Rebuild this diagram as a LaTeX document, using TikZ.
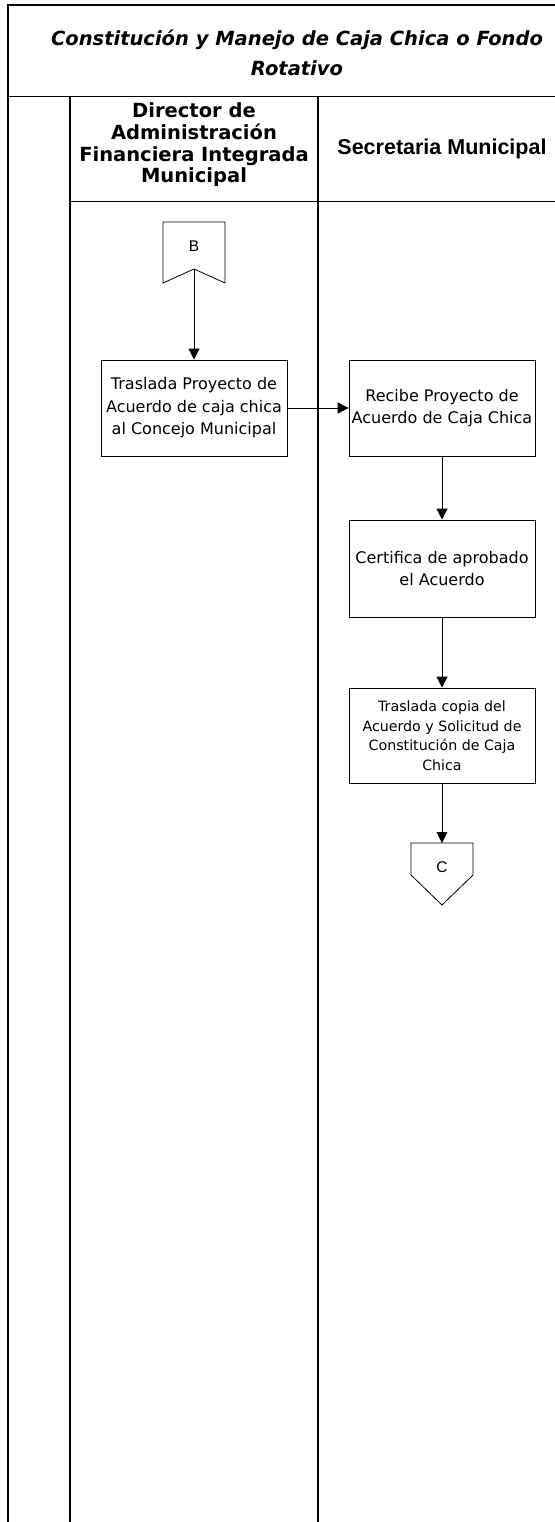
\documentclass[tikz,border=0pt]{standalone}
\usepackage{fontspec}
\setmainfont{DejaVu Sans}
\newfontfamily\arialfont{Liberation Sans}
\usetikzlibrary{arrows.meta}
\begin{document}
\begin{tikzpicture}[x=1pt,y=-1pt,
  grid/.style={line width=1.6pt, line cap=rect},
  proc/.style={draw, line width=0.8pt, rectangle, minimum width=186pt,
    minimum height=96pt, align=center, inner sep=2pt,
    font=\fontsize{16}{22.5}\selectfont},
  smallproc/.style={proc, font=\fontsize{14.2}{19.5}\selectfont},
  conn/.style={draw, line width=0.8pt, line join=miter},
  flow/.style={line width=0.8pt, -{Triangle[length=11pt,width=11pt]}},
  letter/.style={font=\arialfont\fontsize{15.5}{17}\selectfont, inner sep=0pt},
]
\useasboundingbox (0,0) rectangle (554,1522);

% swimlane frame
\draw[grid] (8,1530) -- (8,5) -- (560,5);
\draw[grid] (8,96.5) -- (560,96.5);
\draw[grid] (70,96.5) -- (70,1530);
\draw[grid] (318,96.5) -- (318,1530);
\draw[grid] (70,201.5) -- (560,201.5);

% title and lane headers
\node[align=center, font=\bfseries\itshape\fontsize{19.5}{30}\selectfont] (title)
  at (297,53) {Constitución y Manejo de Caja Chica o Fondo\\Rotativo};
\node[align=center, font=\bfseries\fontsize{19.5}{21.7}\selectfont] (lane1)
  at (194,145) {Director de\\Administración\\Financiera Integrada\\Municipal};
\node[font=\arialfont\bfseries\fontsize{21.5}{24}\selectfont] (lane2)
  at (442,149) {Secretaria Municipal};

% off-page connector B
\draw[conn] (163,222) -- (225,222) -- (225,283) -- (194,269) -- (163,283) -- cycle;
\node[letter] (B) at (194,246) {B};
\coordinate (Bn) at (194,269);

% process steps
\node[proc] (t1) at (194,408) {Traslada Proyecto de\\Acuerdo de caja chica\\al Concejo Municipal};
\node[proc] (t2) at (442,408) {Recibe Proyecto de\\Acuerdo de Caja Chica};
\node[proc, minimum height=97pt] (t3) at (442,568.5) {Certifica de aprobado\\el Acuerdo};
\node[smallproc, minimum height=95pt] (t4) at (442,735.5) {Traslada copia del\\Acuerdo y Solicitud de\\Constitución de Caja\\Chica};

% off-page connector C
\draw[conn] (411,843) -- (473,843) -- (473,875) -- (442,905) -- (411,875) -- cycle;
\node[letter] (C) at (442,867) {C};
\coordinate (Ct) at (442,843);

% connectors
\draw[flow] (Bn) -- (t1.north);
\draw[flow] (t1.east) -- (t2.west);
\draw[flow] (t2.south) -- (t3.north);
\draw[flow] (t3.south) -- (t4.north);
\draw[flow] (t4.south) -- (Ct);
\end{tikzpicture}
\end{document}
